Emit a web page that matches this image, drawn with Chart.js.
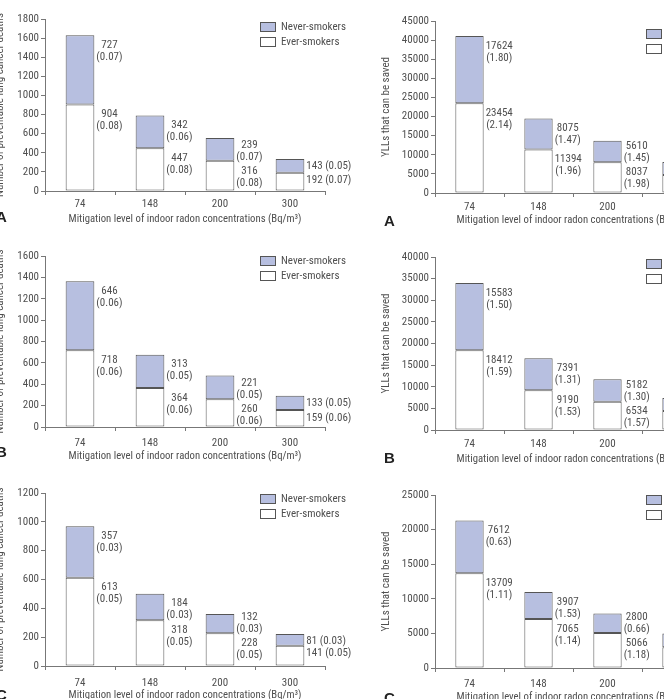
<!DOCTYPE html>
<html>
<head>
<meta charset="utf-8">
<script src="https://cdn.jsdelivr.net/npm/chart.js@4/dist/chart.umd.min.js"></script>
<style>
html, body { margin: 0; padding: 0; background: #fff; overflow: hidden; }
#wrap { position: relative; width: 664px; height: 699px; overflow: hidden; }
canvas { position: absolute; }
.tag { position: absolute; font: bold 15px 'Liberation Sans', Arial, sans-serif; color: #222; }
</style>
</head>
<body>
<div id="wrap">
  <canvas id="la"></canvas>
  <canvas id="ra"></canvas>
  <canvas id="lb"></canvas>
  <canvas id="rb"></canvas>
  <canvas id="lc"></canvas>
  <canvas id="rc"></canvas>
  <div class="tag" style="left:-4px;top:208px">A</div>
  <div class="tag" style="left:384px;top:212px">A</div>
  <div class="tag" style="left:-4px;top:443px">B</div>
  <div class="tag" style="left:384px;top:449px">B</div>
  <div class="tag" style="left:-4px;top:686px">C</div>
  <div class="tag" style="left:384px;top:689px">C</div>
</div>
<script>
const categories = ['74', '148', '200', '300'];

// preventable lung cancer deaths
const deathsEverA = [904, 447, 316, 192];
const deathsNeverA = [727, 342, 239, 143];
const deathsEverPctA = [0.08, 0.08, 0.08, 0.07];
const deathsNeverPctA = [0.07, 0.06, 0.07, 0.05];

const deathsEverB = [718, 364, 260, 159];
const deathsNeverB = [646, 313, 221, 133];
const deathsEverPctB = [0.06, 0.06, 0.06, 0.06];
const deathsNeverPctB = [0.06, 0.05, 0.05, 0.05];

const deathsEverC = [613, 318, 228, 141];
const deathsNeverC = [357, 184, 132, 81];
const deathsEverPctC = [0.05, 0.05, 0.05, 0.05];
const deathsNeverPctC = [0.03, 0.03, 0.03, 0.03];

// YLLs that can be saved (last bar is cut off in the figure, estimated)
const yllEverA = [23454, 11394, 8037, 4700];
const yllNeverA = [17624, 8075, 5610, 3400];
const yllEverPctA = [2.14, 1.96, 1.98, null];
const yllNeverPctA = [1.80, 1.47, 1.45, null];

const yllEverB = [18412, 9190, 6534, 4400];
const yllNeverB = [15583, 7391, 5182, 3000];
const yllEverPctB = [1.59, 1.53, 1.57, null];
const yllNeverPctB = [1.50, 1.31, 1.30, null];

const yllEverC = [13709, 7065, 5066, 3000];
const yllNeverC = [7612, 3907, 2800, 2000];
const yllEverPctC = [1.11, 1.14, 1.18, null];
const yllNeverPctC = [0.63, 1.53, 0.66, null];

const FONT = "'Roboto Condensed', Roboto, sans-serif";
const TEXT = '#4f4f4f';
const AX = '#777';
const LAVENDER = '#b7bfe0';
const X_TITLE = 'Mitigation level of indoor radon concentrations (Bq/m\u00b3)';
const Y_DEATHS = 'Number of preventable lung cancer deaths';
const Y_YLL = 'YLLs that can be saved';

const valueLabels = {
  id: 'valueLabels',
  afterDatasetsDraw(chart, args, opts) {
    const ctx = chart.ctx;
    const ever = chart.getDatasetMeta(0).data;
    const never = chart.getDatasetMeta(1).data;
    const axis = chart.scales.y.bottom;
    const last = ever.length - 1;
    ctx.save();
    ctx.font = '11px ' + FONT;
    ctx.fillStyle = TEXT;
    ctx.textBaseline = 'middle';
    const two = (lines, x, y) => {
      const w = Math.max(...lines.map(t => ctx.measureText(t).width));
      ctx.textAlign = 'center';
      ctx.fillText(lines[0], x + w / 2, y);
      ctx.fillText(lines[1], x + w / 2, y + 12);
    };
    ever.forEach((bar, i) => {
      if (opts.ever[i] == null) return;
      const x = bar.x + bar.width / 2 + 2;
      const eTxt = [String(chart.data.datasets[0].data[i]), '(' + opts.ever[i].toFixed(2) + ')'];
      const nTxt = [String(chart.data.datasets[1].data[i]), '(' + opts.never[i].toFixed(2) + ')'];
      if (i === last) {
        ctx.textAlign = 'left';
        ctx.fillText(nTxt.join(' '), x, never[i].y + 7);
        ctx.fillText(eTxt.join(' '), x, bar.y + 8);
      } else {
        const eY = Math.min(bar.y + 10, axis - 18);
        const nY = Math.min(never[i].y + 10, eY - 26);
        two(nTxt, x, nY);
        two(eTxt, x, eY);
      }
    });
    ctx.restore();
  }
};

const boxLegend = {
  id: 'boxLegend',
  afterDraw(chart, args, opts) {
    const ctx = chart.ctx;
    const area = chart.chartArea;
    const items = [chart.data.datasets[1], chart.data.datasets[0]];
    ctx.save();
    ctx.font = '11px ' + FONT;
    ctx.textBaseline = 'middle';
    ctx.textAlign = 'left';
    items.forEach((ds, k) => {
      const bx = area.right - 65, by = area.top + opts.dy + k * 15;
      ctx.fillStyle = ds.backgroundColor;
      ctx.fillRect(bx, by, 15, 9);
      ctx.strokeStyle = '#555';
      ctx.lineWidth = 1;
      ctx.strokeRect(bx + 0.5, by + 0.5, 15, 9);
      ctx.fillStyle = TEXT;
      ctx.fillText(ds.label, bx + 21, by + 5);
    });
    ctx.restore();
  }
};

function makePanel(p) {
  const el = document.getElementById(p.id);
  const catW = p.catW;
  const plotRight = p.plotLeft + catW * categories.length;
  const xH = Math.round(p.titleC - p.plotBottom + 6.4);
  el.width = plotRight + 40 - p.left;
  el.height = 10 + (p.plotBottom - p.plotTop) + xH;
  el.style.left = p.left + 'px';
  el.style.top = (p.plotTop - 10) + 'px';
  const tickPad = p.labelC - p.plotBottom - 4 - 6.6;

  new Chart(el, {
    type: 'bar',
    data: {
      labels: categories,
      datasets: [
        { label: 'Ever-smokers', data: p.ever, backgroundColor: '#ffffff', borderColor: '#555', borderWidth: 1, borderSkipped: false },
        { label: 'Never-smokers', data: p.never, backgroundColor: LAVENDER, borderColor: '#555', borderWidth: 1, borderSkipped: false }
      ]
    },
    options: {
      responsive: false,
      animation: false,
      devicePixelRatio: 1,
      barPercentage: 0.41,
      categoryPercentage: 1,
      layout: { padding: { top: 10, right: 40, bottom: 0, left: 0 } },
      plugins: {
        legend: { display: false },
        tooltip: { enabled: false },
        valueLabels: { ever: p.everPct, never: p.neverPct },
        boxLegend: { dy: p.legendDy }
      },
      scales: {
        x: {
          stacked: true,
          ticks: { color: TEXT, font: { family: FONT, size: 11 }, padding: tickPad, maxRotation: 0 },
          grid: { display: true, offset: true, drawOnChartArea: false, drawTicks: true, tickLength: 4, color: AX },
          border: { display: true, color: AX },
          title: { display: true, text: X_TITLE, color: TEXT, font: { family: FONT, size: 10.7 }, padding: 0 },
          afterFit(s) { s.height = xH; }
        },
        y: {
          stacked: true,
          min: 0,
          max: p.max,
          ticks: { stepSize: p.step, color: TEXT, font: { family: FONT, size: 11 }, padding: 2, callback: v => String(v) },
          grid: { display: true, drawOnChartArea: false, drawTicks: true, tickLength: 4, color: AX },
          border: { display: true, color: AX },
          title: { display: true, text: p.yTitle, color: TEXT, font: { family: FONT, size: 11 }, padding: { top: 4, bottom: 0 } },
          afterFit(s) { s.width = p.plotLeft - p.left; }
        }
      }
    },
    plugins: [valueLabels, boxLegend]
  });
}

makePanel({ id: 'la', left: -10, plotLeft: 45, catW: 70, plotTop: 19, plotBottom: 191, labelC: 204.5, titleC: 220, legendDy: 3,
  max: 1800, step: 200, yTitle: Y_DEATHS, ever: deathsEverA, never: deathsNeverA, everPct: deathsEverPctA, neverPct: deathsNeverPctA });
makePanel({ id: 'lb', left: -10, plotLeft: 45, catW: 70, plotTop: 256, plotBottom: 427, labelC: 443.5, titleC: 457, legendDy: 0,
  max: 1600, step: 200, yTitle: Y_DEATHS, ever: deathsEverB, never: deathsNeverB, everPct: deathsEverPctB, neverPct: deathsNeverPctB });
makePanel({ id: 'lc', left: -10, plotLeft: 45, catW: 70, plotTop: 493, plotBottom: 666, labelC: 683, titleC: 696, legendDy: 1,
  max: 1200, step: 200, yTitle: Y_DEATHS, ever: deathsEverC, never: deathsNeverC, everPct: deathsEverPctC, neverPct: deathsNeverPctC });
makePanel({ id: 'ra', left: 376, plotLeft: 435, catW: 69, plotTop: 21, plotBottom: 193, labelC: 207, titleC: 221, legendDy: 8,
  max: 45000, step: 5000, yTitle: Y_YLL, ever: yllEverA, never: yllNeverA, everPct: yllEverPctA, neverPct: yllNeverPctA });
makePanel({ id: 'rb', left: 376, plotLeft: 435, catW: 69, plotTop: 257, plotBottom: 430, labelC: 444, titleC: 460, legendDy: 2,
  max: 40000, step: 5000, yTitle: Y_YLL, ever: yllEverB, never: yllNeverB, everPct: yllEverPctB, neverPct: yllNeverPctB });
makePanel({ id: 'rc', left: 376, plotLeft: 435, catW: 69, plotTop: 495, plotBottom: 668, labelC: 684, titleC: 698, legendDy: 0,
  max: 25000, step: 5000, yTitle: Y_YLL, ever: yllEverC, never: yllNeverC, everPct: yllEverPctC, neverPct: yllNeverPctC });
</script>
</body>
</html>
